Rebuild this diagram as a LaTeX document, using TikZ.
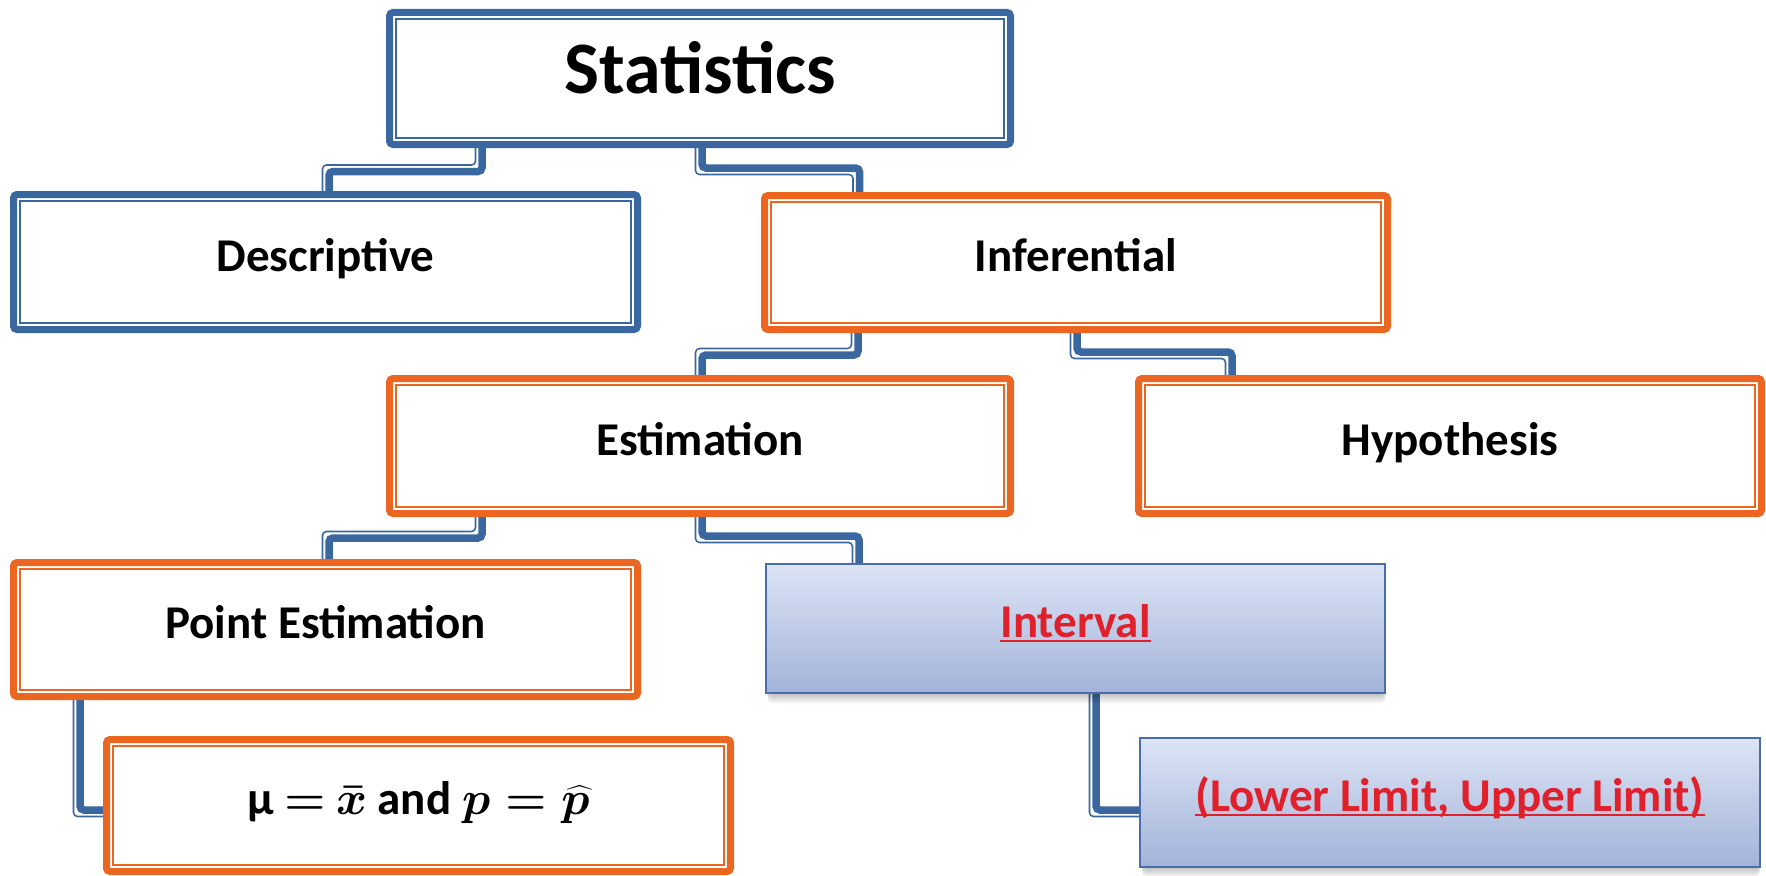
\RequirePackage{fix-cm}
\documentclass[tikz,border=0pt]{standalone}
\usepackage{fontspec}
\setmainfont{Carlito}
\usepackage{amsmath}
\usetikzlibrary{calc}
\definecolor{sblue}{HTML}{3B67A0}
\definecolor{sorange}{HTML}{EB6721}
\definecolor{sred}{HTML}{E0202A}
\definecolor{gtop}{HTML}{DCE4F5}
\definecolor{gbot}{HTML}{A3B3D9}
\definecolor{gborder}{HTML}{4A6EA9}
\newsavebox\ulbox
\newcommand{\redul}[1]{\sbox\ulbox{#1}\rlap{\color{sred}\rule[-4.5pt]{\wd\ulbox}{2.2pt}}\usebox\ulbox}
\newcommand{\innerline}[2]{\draw[#2, line width=1.8pt] ([shift={(6.5,6.5)}]#1.north west) rectangle ([shift={(-6.5,-6.5)}]#1.south east);}
\begin{document}
\begin{tikzpicture}[x=1pt,y=-1pt,
  txt/.style={font=\fontsize{47}{56}\selectfont\bfseries, inner sep=0pt, outer sep=0pt, text height=30pt, text depth=12pt},
  dblbox/.style={txt, draw=#1, line width=7pt, fill=white, rounded corners=3.5pt},
  gradbox/.style={txt, draw=gborder, line width=2pt, top color=gtop, bottom color=gbot, text=sred},
  connthick/.style={draw=sblue, line width=7.5pt, rounded corners=4pt},
  connthin/.style={draw=sblue, line width=1.6pt, rounded corners=4pt},
  shad/.style={fill=black, opacity=0.05, rounded corners=5pt}]
\useasboundingbox (0,0) rectangle (1766,875);

\path (700,78.5) coordinate (Sc) (325.5,262) coordinate (Dc) (1076,262.5) coordinate (Ic)
      (700,446) coordinate (Ec) (1450,446) coordinate (Hc) (325.5,629.5) coordinate (PEc)
      (418.5,805.5) coordinate (Mc) (1075.5,628.5) coordinate (INc) (1450,802.5) coordinate (Lc);

% ---------- connectors ----------
\draw[connthick] (482,0 |- Sc) |- (329,171.5) -- (329,0 |- Dc);
\draw[connthin, shift={(-6.5,-6.5)}] (482,0 |- Sc) |- (329,171.5) -- (329,0 |- Dc);
\draw[connthick] (702,0 |- Sc) |- (859.5,168) -- (859.5,0 |- Ic);
\draw[connthin, shift={(-6.5,6.5)}] (702,0 |- Sc) |- (859.5,168) -- (859.5,0 |- Ic);
\draw[connthick] (858,0 |- Ic) |- (702,355) -- (702,0 |- Ec);
\draw[connthin, shift={(-6.5,-6.5)}] (858,0 |- Ic) |- (702,355) -- (702,0 |- Ec);
\draw[connthick] (1077,0 |- Ic) |- (1232,352) -- (1232,0 |- Hc);
\draw[connthin, shift={(-6.5,6.5)}] (1077,0 |- Ic) |- (1232,352) -- (1232,0 |- Hc);
\draw[connthick] (482,0 |- Ec) |- (329,538) -- (329,0 |- PEc);
\draw[connthin, shift={(-6.5,-6.5)}] (482,0 |- Ec) |- (329,538) -- (329,0 |- PEc);
\draw[connthick] (702,0 |- Ec) |- (859,536) -- (859,0 |- INc);
\draw[connthin, shift={(-6.5,6.5)}] (702,0 |- Ec) |- (859,536) -- (859,0 |- INc);
\draw[connthick] (80,0 |- PEc) |- (150,810);
\draw[connthin, shift={(-6.5,6.5)}] (80,0 |- PEc) |- (150,810);
\draw[connthick] (1096,0 |- INc) |- (1200,810);
\draw[connthin, shift={(-6.5,6.5)}] (1096,0 |- INc) |- (1200,810);

% ---------- boxes ----------
\node[dblbox=sblue, minimum width=621pt, minimum height=132pt,
      font=\fontsize{74}{80}\selectfont\bfseries, text height=47pt, text depth=17pt] (S) at (Sc) {Statistics};
\innerline{S}{sblue}
\node[dblbox=sblue, minimum width=624pt, minimum height=135pt] (D) at (Dc) {Descriptive};
\innerline{D}{sblue}
\node[dblbox=sorange, minimum width=623pt, minimum height=134pt] (I) at (Ic) {Inferential};
\innerline{I}{sorange}
\node[dblbox=sorange, minimum width=621pt, minimum height=135pt] (E) at (Ec) {Estimation};
\innerline{E}{sorange}
\node[dblbox=sorange, minimum width=623pt, minimum height=135pt] (H) at (Hc) {Hypothesis};
\innerline{H}{sorange}
\node[dblbox=sorange, minimum width=624pt, minimum height=134pt] (PE) at (PEc) {Point Estimation};
\innerline{PE}{sorange}
\node[dblbox=sorange, minimum width=624pt, minimum height=132pt] (M) at (Mc)
  {μ\ $\boldsymbol{=}$\ $\boldsymbol{\bar{x}}$ and $\boldsymbol{p=\widehat{p}}$};
\innerline{M}{sorange}

\foreach \k in {1,...,5}{
  \fill[shad] ($(INc)+(-308,-60+2*\k)$) rectangle ($(INc)+(310,64.5+2*\k)$);
  \fill[shad] ($(Lc)+(-308,-60+2*\k)$) rectangle ($(Lc)+(310,64.5+2*\k)$);
}
\node[gradbox, minimum width=619pt, minimum height=129pt] (IN) at (INc) {\redul{Interval}};
\node[gradbox, minimum width=620pt, minimum height=129pt] (L) at (Lc) {\redul{(Lower Limit, Upper Limit)}};
\end{tikzpicture}
\end{document}
